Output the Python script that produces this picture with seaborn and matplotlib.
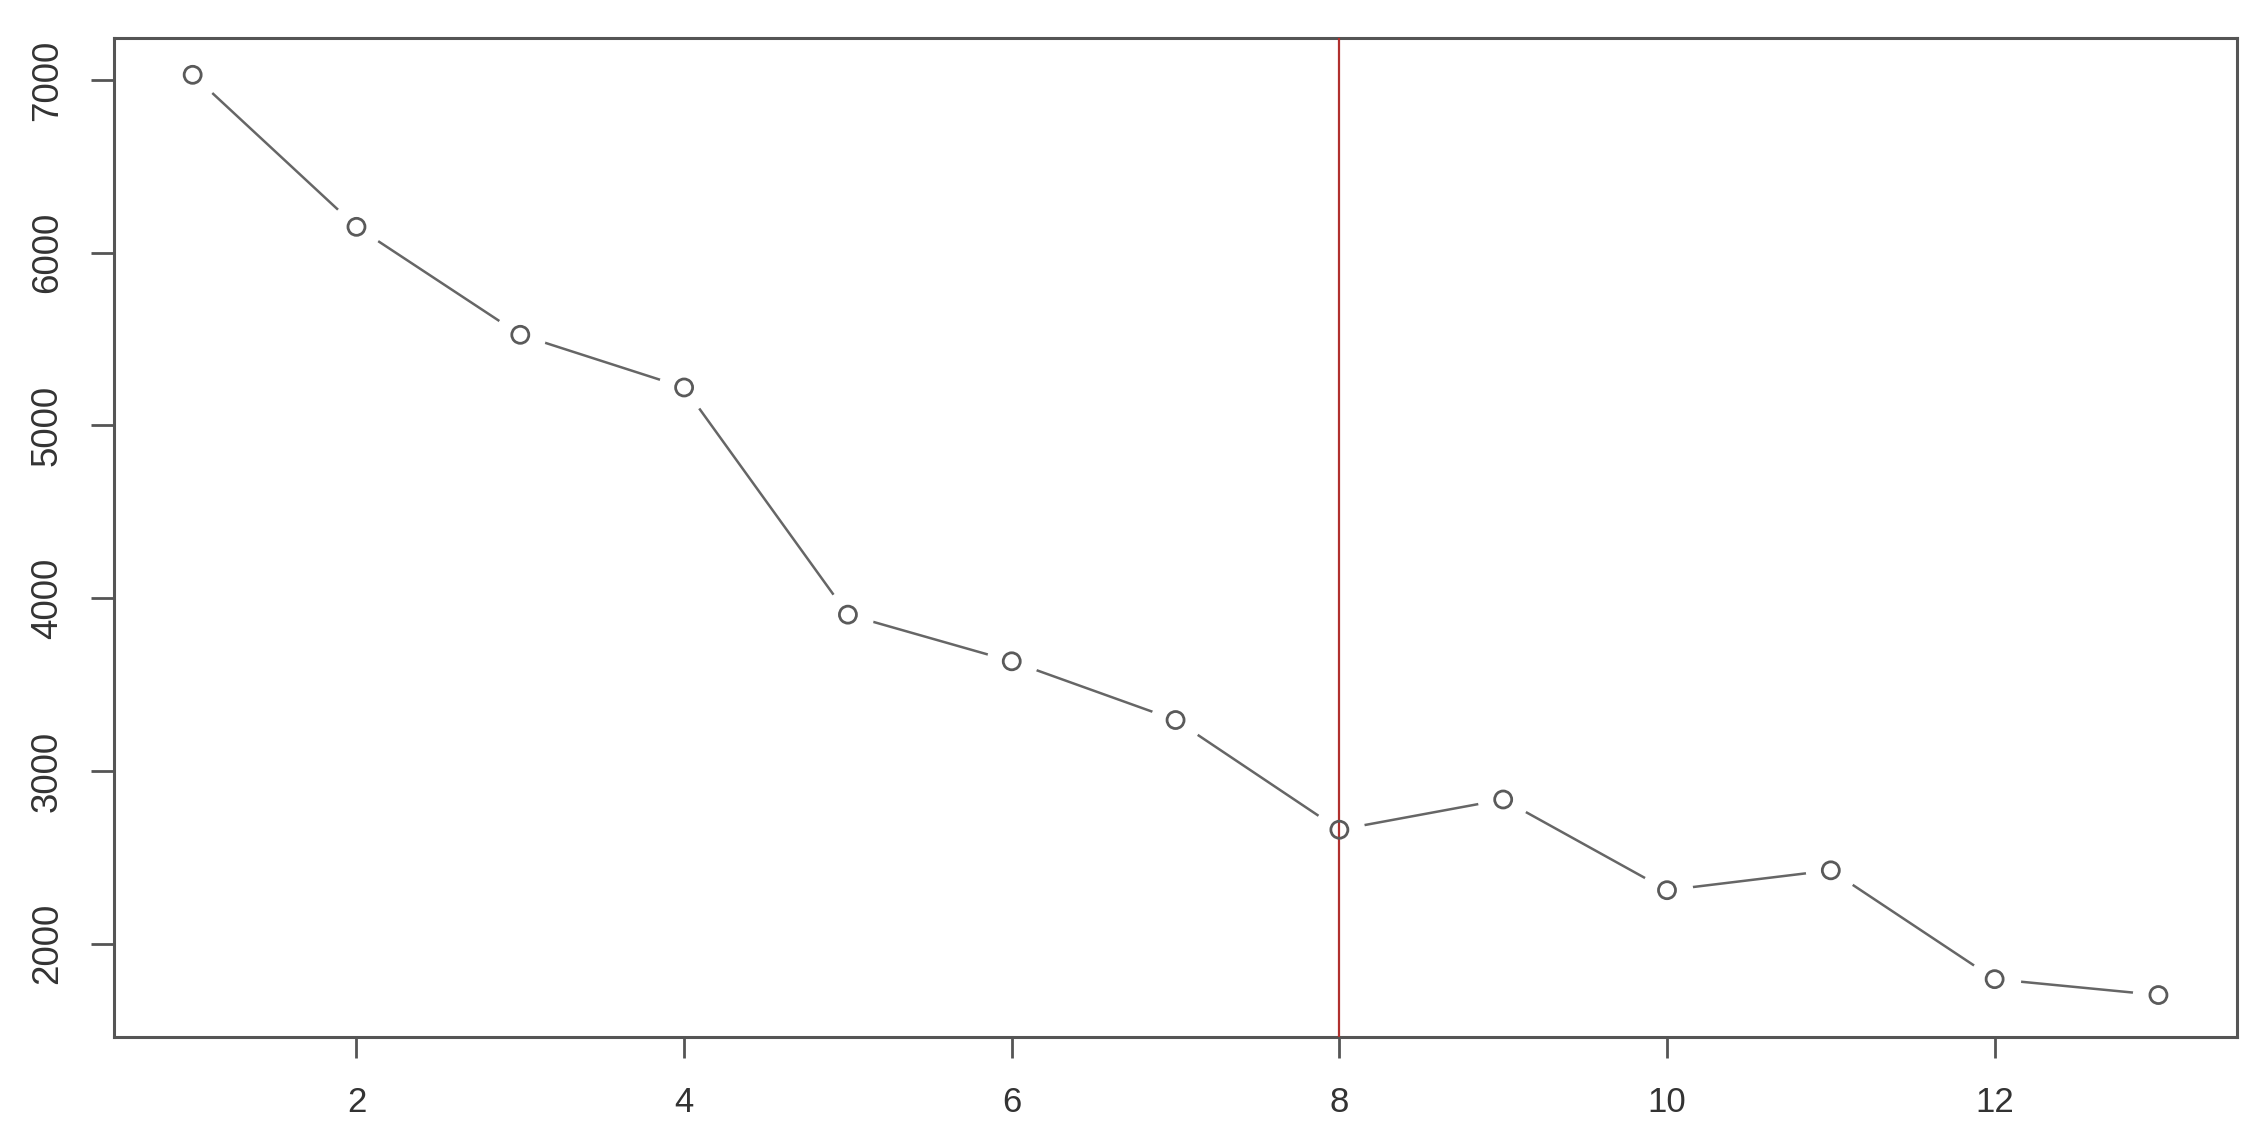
import matplotlib
matplotlib.use('Agg')
import matplotlib.pyplot as plt
import pandas as pd
import seaborn as sns

# values
steps = [1, 2, 3, 4, 5, 6, 7, 8, 9, 10, 11, 12, 13]
values = [7030, 6150, 5525, 5220, 3905, 3635, 3295, 2660, 2835, 2310, 2425, 1795, 1703]
cutoff = 8
x_ticks = [2, 4, 6, 8, 10, 12]
y_ticks = [2000, 3000, 4000, 5000, 6000, 7000]

df = pd.DataFrame({'step': steps, 'value': values})

sns.set_theme(style='white')
plt.rcParams['font.family'] = ['Liberation Sans', 'DejaVu Sans']

fig = plt.figure(figsize=(22.67, 11.45), dpi=100)
ax = fig.add_axes([0.0503, 0.0943, 0.9365, 0.8725])

# R style type="b": line with gaps around the points
sns.lineplot(data=df, x='step', y='value', ax=ax, color='#666666', linewidth=1.8, zorder=1)
ax.plot(df['step'], df['value'], linestyle='none', marker='o', markersize=36,
        markerfacecolor='white', markeredgecolor='white', zorder=2)
ax.axvline(cutoff, color='#b0302e', linewidth=1.6, zorder=3)
sns.scatterplot(data=df, x='step', y='value', ax=ax, s=150, marker='o',
                facecolor='none', edgecolor='#5a5a5a', linewidth=2.0, zorder=4)

ax.set_xlim(0.52, 13.48)
ax.set_ylim(1460, 7243)
ax.set_xticks(x_ticks)
ax.set_yticks(y_ticks)
ax.set_xticklabels([str(t) for t in x_ticks])
ax.set_yticklabels([str(t) for t in y_ticks], rotation=90, va='center')
ax.set_xlabel('')
ax.set_ylabel('')

for sp in ax.spines.values():
    sp.set_visible(True)
    sp.set_color('#555555')
    sp.set_linewidth(2.2)

ax.tick_params(axis='x', direction='out', length=15, width=2, color='#555555',
               pad=20, labelsize=25, labelcolor='#333333', bottom=True)
ax.tick_params(axis='y', direction='out', length=16.5, width=2, color='#555555',
               pad=19, labelsize=26.5, labelcolor='#333333', left=True)

fig.savefig('out.png', dpi=100)
